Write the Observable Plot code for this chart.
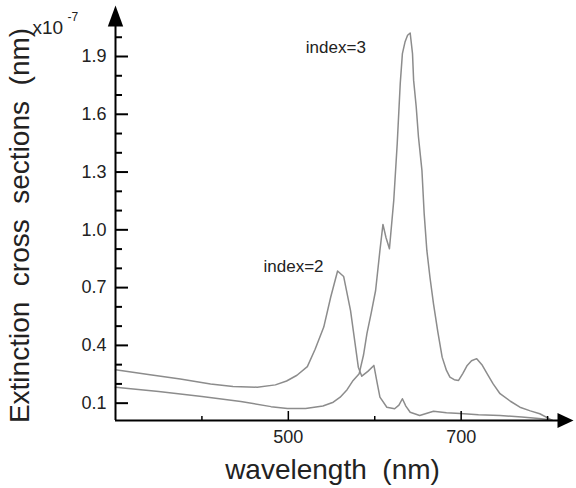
<!DOCTYPE html>
<html><head><meta charset="utf-8">
<script src="https://cdn.jsdelivr.net/npm/d3@7"></script>
<script src="https://cdn.jsdelivr.net/npm/@observablehq/plot@0.6"></script>
<style>
body{margin:0;background:#fff;}
svg{display:block}
svg text{white-space:pre;}
</style>
</head><body><div id="chart"></div>
<script>
// ---- data ----
const wl2  = [300, 340, 375, 410, 436, 464, 485, 498, 510, 522, 531, 541, 549, 557, 564, 572, 581, 585, 592, 599, 603, 606, 614, 623, 628, 632, 636, 641, 652, 668, 683, 699, 720, 745, 770, 790, 805];
const ext2 = [0.273, 0.248, 0.225, 0.200, 0.186, 0.183, 0.195, 0.215, 0.245, 0.290, 0.380, 0.495, 0.650, 0.786, 0.758, 0.580, 0.287, 0.240, 0.265, 0.296, 0.200, 0.131, 0.079, 0.071, 0.090, 0.123, 0.085, 0.053, 0.036, 0.058, 0.050, 0.046, 0.040, 0.036, 0.028, 0.020, 0.012];

const wl3  = [300, 350, 400, 445, 480, 499, 520, 540, 552, 560, 568, 575, 582, 587, 591, 596, 601, 606, 609.5, 613, 617, 622, 626, 629.5, 632, 635, 638, 641, 643.7, 645, 648, 650.6, 654.6, 657.2, 660.3, 664, 668, 673, 678, 683, 687, 692, 697, 702, 707, 712, 718, 724, 730, 737, 745, 757, 768, 780, 791, 805];
const ext3 = [0.183, 0.160, 0.135, 0.109, 0.082, 0.072, 0.072, 0.085, 0.105, 0.131, 0.170, 0.218, 0.253, 0.350, 0.462, 0.570, 0.685, 0.893, 1.028, 0.960, 0.902, 1.153, 1.447, 1.759, 1.915, 1.975, 2.010, 2.022, 1.915, 1.776, 1.638, 1.482, 1.309, 1.084, 0.893, 0.750, 0.616, 0.470, 0.339, 0.270, 0.235, 0.222, 0.218, 0.255, 0.296, 0.320, 0.331, 0.300, 0.253, 0.200, 0.149, 0.110, 0.079, 0.060, 0.045, 0.012];

const majorY = [0.1, 0.4, 0.7, 1.0, 1.3, 1.6, 1.9];
const minorY = [0.2, 0.3, 0.5, 0.6, 0.8, 0.9, 1.1, 1.2, 1.4, 1.5, 1.7, 1.8, 2.0];
const majorX = [500, 700];
const minorX = [400, 600, 800];

const xDomain = [300, 830];
const yDomain = [0.01, 2.17];
const xAxisEnd = [815];
const yAxisEnd = [2.1];

const seriesLabels = ["index=2", "index=3"];
const labelX = [506, 555];
const labelY = [0.807, 1.949];

const yTitle = "Extinction  cross  sections  (nm)";
const xTitle = "wavelength  (nm)";
const scaleText = "x10";
const scaleExp = "-7";

// ---- build tables ----
const rows2 = wl2.map((w, i) => ({w, v: ext2[i]}));
const rows3 = wl3.map((w, i) => ({w, v: ext3[i]}));
const labels = seriesLabels.map((t, i) => ({t, x: labelX[i], y: labelY[i]}));

const arrowUp = {draw(ctx) {ctx.moveTo(0, 0); ctx.lineTo(7.7, 21); ctx.lineTo(-7.7, 21); ctx.closePath();}};
const arrowRight = {draw(ctx) {ctx.moveTo(0, 0); ctx.lineTo(-16, -7.5); ctx.lineTo(-16, 7.5); ctx.closePath();}};

const FONT = "Liberation Sans, Arial, sans-serif";
const TXT = "#222";
const CURVE = "#8c8c8c";

const chart = Plot.plot({
  width: 576,
  height: 488,
  marginLeft: 115,
  marginRight: 3,
  marginTop: 4,
  marginBottom: 68,
  style: {fontFamily: FONT, fontSize: "18px", color: TXT, background: "#fff"},
  x: {domain: xDomain},
  y: {domain: yDomain},
  marks: [
    // curves
    Plot.line(rows2, {x: "w", y: "v", stroke: CURVE, strokeWidth: 1.5}),
    Plot.line(rows3, {x: "w", y: "v", stroke: CURVE, strokeWidth: 1.5}),
    // axis lines
    Plot.ruleX([xDomain[0]], {y1: yDomain[0], y2: yAxisEnd[0], stroke: "#000", strokeWidth: 2}),
    Plot.ruleY([yDomain[0]], {x1: xDomain[0], x2: xAxisEnd[0], stroke: "#000", strokeWidth: 2}),
    Plot.dot([0], {x: () => xDomain[0], y: () => yDomain[1], symbol: arrowUp, r: 1, fill: "#000", stroke: "none", dy: 1}),
    Plot.dot([0], {x: () => xDomain[1], y: () => yDomain[0], symbol: arrowRight, r: 1, fill: "#000", stroke: "none"}),
    // y ticks (inward) and labels
    Plot.axisY(majorY, {anchor: "right", frameAnchor: "left", tickSize: 12, fill: "none", stroke: "#000", strokeWidth: 2, label: null}),
    Plot.axisY(minorY, {anchor: "right", frameAnchor: "left", tickSize: 6, fill: "none", stroke: "#000", strokeWidth: 2, label: null}),
    Plot.axisY(majorY, {anchor: "left", tickSize: 0, tickPadding: 9, tickFormat: d3.format(".1f"), fontSize: 18, fill: TXT, label: null}),
    // x ticks (inward) and labels
    Plot.axisX(majorX, {anchor: "top", frameAnchor: "bottom", tickSize: 10, fill: "none", stroke: "#000", strokeWidth: 1.5, label: null}),
    Plot.axisX(minorX, {anchor: "top", frameAnchor: "bottom", tickSize: 5, fill: "none", stroke: "#000", strokeWidth: 1.5, label: null}),
    Plot.axisX(majorX, {anchor: "bottom", tickSize: 0, tickPadding: 10, fontSize: 18, fill: TXT, label: null}),
    // series labels
    Plot.text(labels, {x: "x", y: "y", text: "t", fontSize: 17, fill: TXT}),
    // titles
    Plot.text([yTitle], {frameAnchor: "left", textAnchor: "middle", lineAnchor: "middle", dx: -95, dy: 13, rotate: -90, fontSize: 28, fill: TXT}),
    Plot.text([xTitle], {frameAnchor: "bottom", textAnchor: "middle", lineAnchor: "bottom", dx: -12, dy: 58, fontSize: 28, fill: TXT}),
    Plot.text([scaleText], {frameAnchor: "top-left", textAnchor: "start", lineAnchor: "bottom", dx: -83, dy: 29, fontSize: 19, fill: TXT}),
    Plot.text([scaleExp], {frameAnchor: "top-left", textAnchor: "start", lineAnchor: "bottom", dx: -48, dy: 16, fontSize: 12, fill: TXT})
  ]
});
document.getElementById("chart").appendChild(chart);
</script>
</body></html>
